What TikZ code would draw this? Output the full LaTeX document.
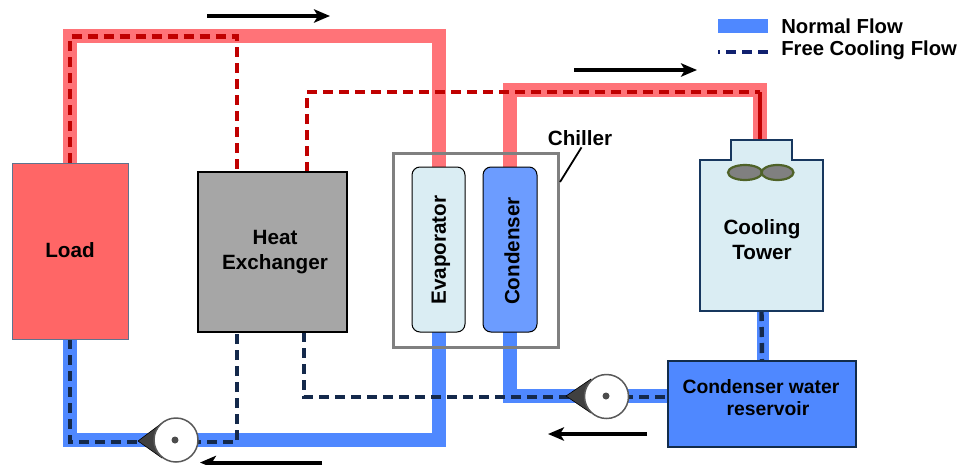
\documentclass[tikz,border=0pt]{standalone}
\usepackage{fontspec}
\setmainfont{Liberation Sans}
\usetikzlibrary{arrows.meta,shapes.geometric,backgrounds}
\newlength\pxu
\setlength\pxu{0.75pt}
\definecolor{pipered}{HTML}{FF7378}
\definecolor{pipeblue}{HTML}{4F88FF}
\definecolor{dashred}{HTML}{C00000}
\definecolor{dashnavy}{HTML}{14294B}
\definecolor{loadred}{HTML}{FF6666}
\definecolor{hxgray}{HTML}{A6A6A6}
\definecolor{palecyan}{HTML}{DAEDF3}
\definecolor{condblue}{HTML}{6C9CFF}
\definecolor{towerline}{HTML}{17375E}
\definecolor{fanline}{HTML}{4F6228}
\tikzset{
  lbl/.style={font=\bfseries\fontsize{15.5}{18.3}\selectfont,text=black,align=center,inner sep=0pt},
  redpipe/.style={draw=pipered,line width=14\pxu,line join=miter},
  bluepipe/.style={draw=pipeblue,line width=14\pxu,line join=miter},
  reddash/.style={draw=dashred,line width=4.4\pxu,dash pattern=on 10\pxu off 6\pxu},
  navydash/.style={draw=dashnavy,line width=4.4\pxu,dash pattern=on 10\pxu off 6\pxu},
  flowarrow/.style={draw=black,line width=3pt,-{Stealth[length=12pt,width=10pt,inset=3pt]}},
  boxn/.style={inner sep=0pt,outer sep=0pt,lbl},
  hxchg/.style={boxn,rectangle,draw=black,line width=2\pxu,fill=hxgray},
  vessel/.style={boxn,rectangle,rounded corners=8\pxu,draw=black,line width=1\pxu},
  towerpart/.style={boxn,draw=towerline,line width=1.5\pxu,fill=palecyan},
  pumpbody/.style={circle,inner sep=0pt,outer sep=0pt,minimum size=44\pxu,draw=black!65,line width=1.5\pxu,fill=white},
  pumphub/.style={circle,inner sep=0pt,minimum size=7\pxu,fill=black!70},
  pumpnose/.style={fill=black!75,draw=black,line width=.6\pxu,line join=round},
  fan/.style={ellipse,inner sep=0pt,minimum height=15\pxu,draw=fanline,line width=2.2\pxu,fill=black!50},
}
\begin{document}
\begin{tikzpicture}[x=0.75pt,y=-0.75pt]
\useasboundingbox (0,0) rectangle (959,464);
% equipment
\node[boxn,minimum width=116\pxu,minimum height=176\pxu,draw=towerline!70,line width=.8\pxu,fill=loadred] (load) at (70,251) {};
\node[lbl] (loadlbl) at (70,250) {Load};
\node[hxchg,minimum width=149\pxu,minimum height=160\pxu] (hx) at (272.5,252) {};
\node[lbl] (hxlbl) at (275,252) {Heat\\Exchanger};
\node[vessel,minimum width=53\pxu,minimum height=165\pxu,fill=palecyan] (evap) at (438.5,249.5) {};
\node[vessel,minimum width=54\pxu,minimum height=165\pxu,fill=condblue] (cond) at (510,249.5) {};
\node[lbl,rotate=90] (evaplbl) at (441,250) {Evaporator};
\node[lbl,rotate=90] (condlbl) at (512,251) {Condenser};
\node[towerpart,minimum width=61\pxu,minimum height=20\pxu] (neck) at (761.5,150) {};
\node[towerpart,minimum width=123\pxu,minimum height=151\pxu] (tower) at (761.5,235.5) {};
\fill[palecyan] (732,156) rectangle (791,163);
\node[fan,minimum width=34\pxu] (fana) at (745,172.5) {};
\node[fan,minimum width=32\pxu] (fanb) at (777.5,172.5) {};
\node[lbl] (towerlbl) at (762,239.5) {Cooling\\Tower};
\node[boxn,minimum width=188\pxu,minimum height=86\pxu,draw=towerline!80!black,line width=1.5\pxu,fill=pipeblue] (res) at (762,404) {};
\node[lbl,font=\bfseries\fontsize{14.5}{16.5}\selectfont] (reslbl) at (761,398) {Condenser water\\\hspace*{14\pxu}reservoir};
% bends
\coordinate (rtl) at (70,36);
\coordinate (rtr) at (438.5,36);
\coordinate (rcl) at (510,90);
\coordinate (rcr) at (760,90);
\coordinate (bll) at (70,440);
\coordinate (blr) at (438.5,440);
\coordinate (bcl) at (510,396);
\coordinate (bcr) at (668,396);
\coordinate (hxa) at (237,172);
\coordinate (hxb) at (307,172);
\coordinate (hxc) at (237,332);
\coordinate (hxd) at (304,332);
\coordinate (dtl) at (70,36.5);
\coordinate (dtr) at (237,36.5);
\coordinate (dcl) at (307,92);
\coordinate (dcr) at (760,92);
\coordinate (dbl) at (70,442);
\coordinate (dbr) at (237,442);
\coordinate (dcb) at (304,397);
\coordinate (dcc) at (668,397);
\coordinate (neckpipe) at (760,140);
\begin{scope}[on background layer]
% normal flow pipes
\draw[redpipe] (load.north) -- (rtl) -- (rtr) -- (evap.north);
\draw[redpipe] (cond.north) -- (rcl) -- (rcr) -- (neckpipe);
\draw[bluepipe] (load.south) -- (bll) -- (blr) -- (evap.south);
\draw[bluepipe] (cond.south) -- (bcl) -- (bcr);
\draw[bluepipe,line width=12\pxu] ([xshift=1.5\pxu]tower.south) -- ([xshift=1\pxu]res.north);
% free cooling flow
\draw[reddash] (load.north) -- (dtl) -- (dtr) -- (hxa);
\draw[reddash] (hxb) -- (dcl) -- (dcr);
\draw[draw=dashred,line width=4.4\pxu] (dcr) -- (neckpipe);
\draw[navydash] (load.south) -- (dbl) -- (dbr) -- (hxc);
\draw[navydash] (hxd) -- (dcb) -- (dcc);
\draw[navydash] (tower.south) -- (res.north);
% chiller housing
\node[boxn,minimum width=165\pxu,minimum height=194\pxu,draw=black!50,line width=3\pxu] (chiller) at (475.5,250) {};
\end{scope}
% pumps
\fill[pumpnose] (138,441) -- (162,423) -- (162,458) -- cycle;
\node[pumpbody] (pumpa) at (176,440) {};
\node[pumphub] (huba) at (175,440) {};
\fill[pumpnose] (566,396) -- (591,379) -- (591,413) -- cycle;
\node[pumpbody] (pumpb) at (606.5,396.5) {};
\node[pumphub] (hubb) at (606,396) {};
% flow arrows
\coordinate (fa1) at (207,16); \coordinate (fa2) at (330,16);
\coordinate (fb1) at (574,70); \coordinate (fb2) at (697,70);
\coordinate (fc1) at (647,434); \coordinate (fc2) at (548,434);
\coordinate (fd1) at (322,462.5); \coordinate (fd2) at (200,462.5);
\draw[flowarrow] (fa1) -- (fa2);
\draw[flowarrow] (fb1) -- (fb2);
\draw[flowarrow] (fc1) -- (fc2);
\draw[flowarrow] (fd1) -- (fd2);
% chiller label
\node[lbl] (chillbl) at (580,138) {Chiller};
\coordinate (chilltip) at (560,182);
\draw[black,line width=1.8\pxu] ([xshift=1.5\pxu,yshift=-1.5\pxu]chillbl.south) -- (chilltip);
% legend
\node[inner sep=0pt,minimum width=50\pxu,minimum height=14\pxu,fill=pipeblue] (legn) at (743,26) {};
\coordinate (legd1) at (718,52); \coordinate (legd2) at (768,52);
\draw[draw=dashnavy!80!blue,line width=4.4\pxu,dash pattern=on 10\pxu off 6\pxu,dash phase=8\pxu] (legd1) -- (legd2);
\node[lbl,anchor=west,font=\bfseries\fontsize{15.2}{18}\selectfont] (legtxta) at (781,26) {Normal Flow};
\node[lbl,anchor=west,font=\bfseries\fontsize{15.2}{18}\selectfont] (legtxtb) at (781,50.5) {Free Cooling Flow};
\end{tikzpicture}
\end{document}
